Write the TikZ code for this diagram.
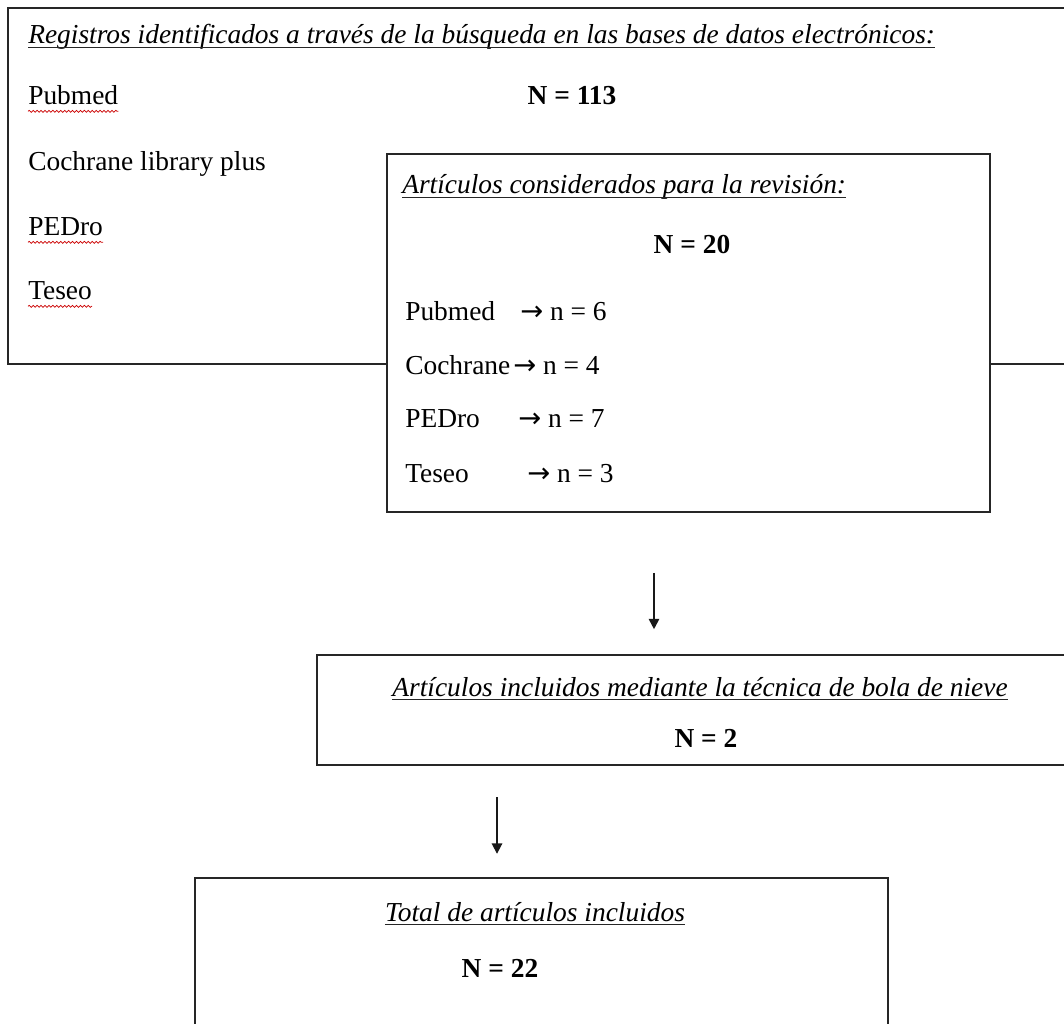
\documentclass[tikz,border=0pt]{standalone}
\usepackage{fontspec}
\setmainfont{Liberation Serif}
\newfontfamily\flechas{DejaVu Sans}
\usepackage{tikz}
\usetikzlibrary{positioning, fit, arrows.meta, decorations.pathmorphing}
\tikzset{caja/.style={draw=black!85, line width=1.4pt, inner sep=0pt, fill=white},
  texto/.style={anchor=base west, inner sep=0pt, font=\fontsize{19.5}{23}\selectfont},
  centrado/.style={texto, anchor=base},
  titulo/.style={font=\fontsize{19.5}{23}\selectfont\itshape},
  cifra/.style={centrado, font=\fontsize{19.5}{23}\selectfont\bfseries},
  subrayado/.style={line width=1.1pt, draw=black!85},
  ortografia/.style={draw=red!80!black, line width=0.5pt, decorate, decoration={snake, amplitude=0.7pt, segment length=2.8pt}},
  flecha/.style={-{Triangle[length=0.26cm, width=0.26cm]}, line width=1.3pt, draw=black!90}}
\newcommand{\da}{{\flechas →}}

\begin{document}
\begin{tikzpicture}[x=0.025cm, y=-0.025cm]
\useasboundingbox (0, 0) rectangle (1064, 1024);
\clip (0, 0) rectangle (1064, 1024);
\node[caja, fit={(8, 8) (1090, 364)}] (registros) {};
\node[texto, titulo] (registros-titulo) at (28, 44) {Registros identificados a través de la búsqueda en las bases de datos electrónicos:};
\draw[subrayado] ([yshift=-2.4pt]registros-titulo.base west) -- ([yshift=-2.4pt]registros-titulo.base east);
\node[texto] (base-pubmed) at (28, 105) {Pubmed};
\draw[ortografia] ([yshift=-4.5pt]base-pubmed.base west) -- ([yshift=-4.5pt]base-pubmed.base east);
\node[cifra] (registros-n) at (572, 105) {N = 113};
\node[texto] (base-cochrane) at (28, 171) {Cochrane library plus};
\node[texto] (base-pedro) at (28, 236) {PEDro};
\draw[ortografia] ([yshift=-4.5pt]base-pedro.base west) -- ([yshift=-4.5pt]base-pedro.base east);
\node[texto] (base-teseo) at (28, 300) {Teseo};
\draw[ortografia] ([yshift=-4.5pt]base-teseo.base west) -- ([yshift=-4.5pt]base-teseo.base east);
% caja interior, tapa la linea de abajo
\node[caja, fit={(387, 154) (990, 512)}] (considerados) {};
\node[texto, titulo] (considerados-titulo) at (402, 194) {Artículos considerados para la revisión:};
\draw[subrayado] ([yshift=-2.4pt]considerados-titulo.base west) -- ([yshift=-2.4pt]considerados-titulo.base east);
\node[cifra] (considerados-n) at (692, 253) {N = 20};
\node[texto] (lista-pubmed) at (405, 320) {Pubmed};
\node[texto] (cuenta-pubmed) at (520, 320) {\da{} n = 6};
\node[texto] (lista-cochrane) at (405, 374) {Cochrane};
\node[texto] (cuenta-cochrane) at (513, 374) {\da{} n = 4};
\node[texto] (lista-pedro) at (405, 427) {PEDro};
\node[texto] (cuenta-pedro) at (518, 427) {\da{} n = 7};
\node[texto] (lista-teseo) at (405, 482) {Teseo};
\node[texto] (cuenta-teseo) at (527, 482) {\da{} n = 3};
\node[caja, fit={(317, 655) (1090, 765)}] (nieve) {};
\node[centrado, titulo] (nieve-titulo) at (700, 696) {Artículos incluidos mediante la técnica de bola de nieve};
\draw[subrayado] ([yshift=-2.4pt]nieve-titulo.base west) -- ([yshift=-2.4pt]nieve-titulo.base east);
\node[cifra] (nieve-n) at (706, 747) {N = 2};
\node[caja, fit={(195, 878) (888, 1050)}] (total) {};
\node[centrado, titulo] (total-titulo) at (535, 921) {Total de artículos incluidos};
\draw[subrayado] ([yshift=-2.4pt]total-titulo.base west) -- ([yshift=-2.4pt]total-titulo.base east);
\node[cifra] (total-n) at (500, 977) {N = 22};
\coordinate (bajada1) at (654, 512);
\coordinate (bajada2) at (497, 765);
\draw[flecha, shorten <=1.52cm, shorten >=0.62cm] (bajada1) -- (bajada1 |- nieve.north);
\draw[flecha, shorten <=0.8cm, shorten >=0.58cm] (bajada2) -- (bajada2 |- total.north);
\end{tikzpicture}
\end{document}
